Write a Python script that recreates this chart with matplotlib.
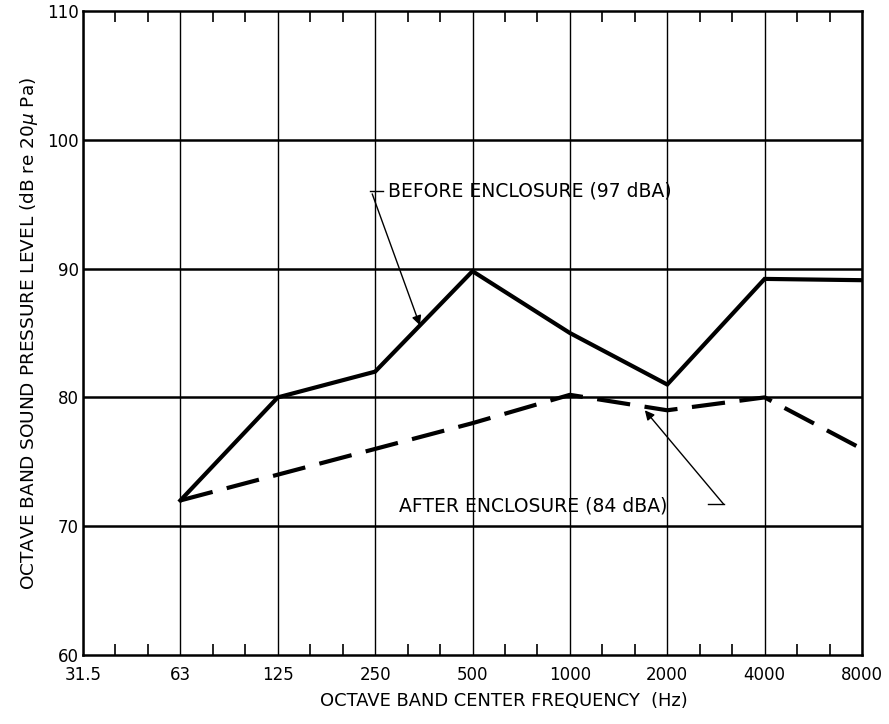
import numpy as np
import matplotlib.pyplot as plt

# octave band data
bands = ["31.5", "63", "125", "250", "500", "1000", "2000", "4000", "8000"]
before_bands = ["63", "125", "250", "500", "1000", "2000", "4000", "8000"]
before_spl = [72, 80, 82, 89.8, 85, 81, 89.2, 89.1]
after_bands = ["63", "125", "250", "500", "1000", "2000", "4000", "8000"]
after_spl = [72, 74, 76, 78, 80.2, 79, 80, 76]
y_ticks = [60, 70, 80, 90, 100, 110]

pos = {b: i for i, b in enumerate(bands)}
xb = [pos[b] for b in before_bands]
xa = [pos[b] for b in after_bands]

plt.rcParams['font.family'] = ['DejaVu Sans']
fig = plt.figure(figsize=(8.89, 7.24), dpi=100)
ax = fig.add_axes([83 / 889, 69 / 724, (862 - 83) / 889, (655 - 11) / 724])

ax.set_xlim(0, len(bands) - 1)
ax.set_ylim(60, 110)

# grid
for i in range(len(bands)):
    ax.axvline(i, color='black', lw=1.0, zorder=1)
for v in y_ticks[1:-1]:
    ax.axhline(v, color='black', lw=1.8, zorder=1)

ax.plot(xb, before_spl, color='black', lw=3.0, solid_joinstyle='miter', zorder=3)
ax.plot(xa, after_spl, color='black', lw=3.0, dashes=(8, 3.5), zorder=3)

ax.set_xticks(range(len(bands)))
ax.set_xticklabels(bands)
ax.set_xticks([i + k / 3 for i in range(len(bands) - 1) for k in (1, 2)], minor=True)
ax.tick_params(axis='x', which='major', length=0, pad=8, labelsize=12)
ax.tick_params(axis='x', which='minor', direction='in', length=8, width=1.2,
               top=True, bottom=True)
ax.set_yticks(y_ticks)
ax.tick_params(axis='y', length=0, pad=3, labelsize=12)
for lbl in ax.get_yticklabels():
    lbl.set_verticalalignment('center_baseline')
for s in ax.spines.values():
    s.set_linewidth(1.8)

ax.set_xlabel("OCTAVE BAND CENTER FREQUENCY  (Hz)", fontsize=12.9)
ax.xaxis.set_label_coords(0.54, -0.058)
ax.set_ylabel(r"OCTAVE BAND SOUND PRESSURE LEVEL (dB re 20$\mu$ Pa)",
              fontsize=13.3, labelpad=5)

# annotations
ax.text(3.13, 96.0, "BEFORE ENCLOSURE (97 dBA)", fontsize=13.5, va='center', ha='left')
ax.plot([2.95, 3.08], [96.0, 96.0], color='black', lw=1.0)
ax.annotate("", xy=(3.46, 85.6), xytext=(2.97, 95.8),
            arrowprops=dict(arrowstyle='-|>', color='black', lw=1.0,
                            mutation_scale=14, shrinkA=0, shrinkB=0))

ax.text(3.25, 71.6, "AFTER ENCLOSURE (84 dBA)", fontsize=13.5, va='center', ha='left')
ax.plot([6.42, 6.58], [71.7, 71.7], color='black', lw=1.0)
ax.annotate("", xy=(5.77, 79.0), xytext=(6.58, 71.7),
            arrowprops=dict(arrowstyle='-|>', color='black', lw=1.0,
                            mutation_scale=14, shrinkA=0, shrinkB=0))

plt.savefig("out.png", dpi=100)
